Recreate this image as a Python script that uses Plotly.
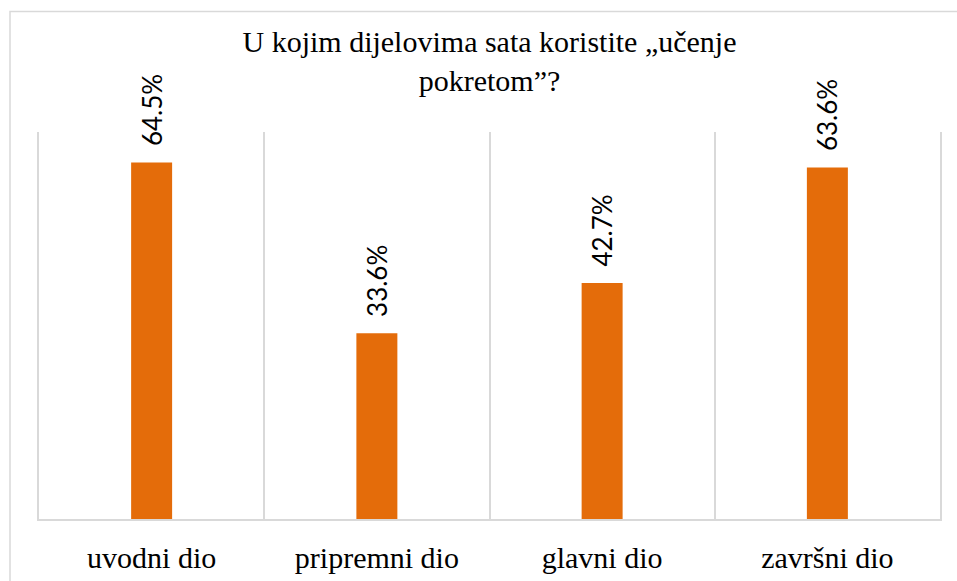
import plotly.graph_objects as go

categories = ["uvodni dio", "pripremni dio", "glavni dio", "završni dio"]
values = [64.5, 33.6, 42.7, 63.6]
title_text = "U kojim dijelovima sata koristite „učenje<br>pokretom”?"

BAR_COLOR = "#E46C0A"
GRID = "#D9D9D9"
SERIF = "Liberation Serif"

fig = go.Figure(
    go.Bar(
        x=categories,
        y=values,
        marker=dict(color=BAR_COLOR, line=dict(width=0)),
        text=[f"{v:.1f}%" for v in values],
        texttemplate="\u00a0\u00a0%{text}",
        textposition="outside",
        textangle=-90,
        constraintext="none",
        cliponaxis=False,
        textfont=dict(family="Lato", size=26, color="#000000"),
        hoverinfo="skip",
    )
)

fig.update_layout(
    width=957,
    height=581,
    margin=dict(l=39, r=17, t=132, b=62, autoexpand=False),
    paper_bgcolor="#FFFFFF",
    plot_bgcolor="#FFFFFF",
    bargap=0.818,
    showlegend=False,
    title=dict(
        text=title_text,
        x=0.5,
        xref="paper",
        xanchor="center",
        y=1 - 52 / 581,
        yref="container",
        yanchor="top",
        font=dict(family=SERIF, size=30, color="#000000"),
    ),
    xaxis=dict(
        type="category",
        range=[-0.5, 3.5],
        tickson="boundaries",
        showgrid=True,
        gridcolor=GRID,
        gridwidth=1.5,
        showline=True,
        linecolor=GRID,
        linewidth=1.5,
        ticks="",
        ticklabelstandoff=11,
        automargin=False,
        tickfont=dict(family=SERIF, size=30, color="#000000"),
        fixedrange=True,
    ),
    yaxis=dict(
        range=[0, 70],
        showgrid=False,
        zeroline=False,
        showticklabels=False,
        showline=True,
        mirror=True,
        linecolor=GRID,
        linewidth=1.5,
        ticks="",
        automargin=False,
        fixedrange=True,
    ),
    shapes=[
        dict(
            type="rect",
            xref="paper",
            yref="paper",
            x0=(10 - 39) / 901,
            x1=1.2,
            y0=-0.5,
            y1=(519 - 11.5) / 387,
            line=dict(color=GRID, width=1.5),
            fillcolor="rgba(0,0,0,0)",
            layer="below",
        )
    ],
)

post = (
    "document.body.style.margin='0';"
    "var s=document.createElement('style');"
    "s.textContent='body{margin:0}';"
    "document.head.appendChild(s);"
)

fig.write_html("out.html", post_script=post, config={"displayModeBar": False})
